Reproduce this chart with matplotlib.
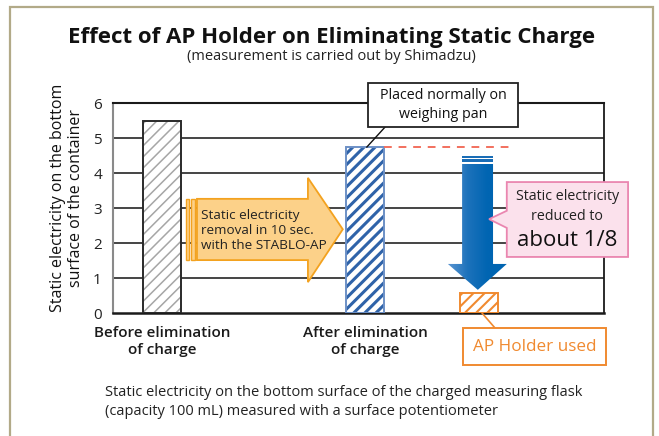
import numpy as np
import matplotlib
matplotlib.use("Agg")
import matplotlib.pyplot as plt
from matplotlib.patches import Rectangle, Polygon
from matplotlib.colors import LinearSegmentedColormap

plt.rcParams['font.family'] = ['Open Sans', 'DejaVu Sans']

# chart data
categories = ["Before elimination\nof charge", "After elimination\nof charge", "AP Holder used"]
values = [5.5, 4.75, 0.57]
positions = [1.0, 5.13, 7.46]
yticks = [0, 1, 2, 3, 4, 5, 6]

title = "Effect of AP Holder on Eliminating Static Charge"
subtitle = "(measurement is carried out by Shimadzu)"
ylabel = "Static electricity on the bottom\nsurface of the container"
caption = ("Static electricity on the bottom surface of the charged measuring flask\n"
           "(capacity 100 mL) measured with a surface potentiometer")

hatch_colors = ['#a6a6a6', '#2f63a9', '#f08a30']
border_colors = ['#2a2a2a', '#6d90c6', '#f08a30']
hatch_widths = [1.1, 2.2, 1.5]
bar_w = 0.78

fig = plt.figure(figsize=(6.59, 4.36), dpi=100)
W, H = 659.0, 436.0
ax = fig.add_axes([113 / W, 1 - 313.3 / H, 491 / W, 210 / H])
ax.set_xlim(0, 10)
ax.set_ylim(0, 6)

# outer frame
fig.patches.append(Rectangle((10 / W, -0.05), 643 / W, 1.05 - 7 / H, transform=fig.transFigure,
                             fill=False, edgecolor='#b2aa88', linewidth=1.6))

# grid lines
for y in yticks[1:-1]:
    ax.axhline(y, color='#444444', linewidth=1.4, zorder=1)

for sp in ['top', 'bottom', 'right']:
    ax.spines[sp].set_color('#1a1a1a')
ax.spines['top'].set_linewidth(1.5)
ax.spines['bottom'].set_linewidth(1.8)
ax.spines['right'].set_linewidth(1.3)
ax.spines['left'].set_color('#8a8a8a')
ax.spines['left'].set_linewidth(1.5)

# hatched bars + borders
hb = ax.bar(positions, values, bar_w, color='white', edgecolor=hatch_colors, hatch='///',
            linewidth=0, zorder=2)
for p, lw in zip(hb.patches, hatch_widths):
    if hasattr(p, 'set_hatch_linewidth'):
        p.set_hatch_linewidth(lw)
ax.bar(positions, values, bar_w, fill=False, edgecolor=border_colors, linewidth=1.4, zorder=3)

ax.set_yticks(yticks)
ax.set_yticklabels([str(t) for t in yticks], fontsize=11, color='#222')
ax.set_xticks(positions[:2])
ax.set_xticklabels(categories[:2], fontsize=11, fontweight='semibold', linespacing=1.25, color='#1a1a1a')
ax.tick_params(axis='both', length=0, pad=8)
ax.tick_params(axis='x', pad=9)

# red dashed reference at the "after" level
ax.plot([positions[1] + bar_w / 2, 8.13], [values[1], values[1]], color='#f2705e',
        linestyle=(0, (4, 3.5)), linewidth=1.4, zorder=4)

# "Placed normally on weighing pan" box
ax.plot([5.54, 5.17], [5.32, values[1]], color='#111', linewidth=1.0, zorder=5, clip_on=False)
ax.add_patch(Rectangle((5.19, 5.32), 3.06, 1.26, facecolor='white', edgecolor='#222',
                       linewidth=1.3, zorder=6, clip_on=False))
ax.text(6.72, 5.95, "Placed normally on\nweighing pan", ha='center', va='center', fontsize=10.3,
        linespacing=1.35, color='#111', zorder=7, clip_on=False)

# orange arrow: removal with STABLO-AP
org_fill, org_edge = '#fcd189', '#f3a21f'
arrow_pts = [(1.71, 3.27), (3.97, 3.27), (3.97, 3.87), (4.68, 2.40), (3.97, 0.89),
             (3.97, 1.52), (1.71, 1.52)]
ax.add_patch(Polygon(arrow_pts, closed=True, facecolor=org_fill, edgecolor=org_edge,
                     linewidth=1.3, zorder=5))
for x0, x1 in [(1.49, 1.55), (1.59, 1.67)]:
    ax.add_patch(Rectangle((x0, 1.52), x1 - x0, 1.75, facecolor=org_fill, edgecolor=org_edge,
                           linewidth=1.0, zorder=5))
ax.text(1.79, 2.37, "Static electricity\nremoval in 10 sec.\nwith the STABLO-AP", ha='left',
        va='center', fontsize=9.7, linespacing=1.2, color='#222', zorder=6)

# blue gradient arrow pointing down to the AP Holder bar
blue_pts = [(7.11, 4.27), (7.74, 4.27), (7.74, 1.41), (8.02, 1.41), (7.43, 0.67),
            (6.82, 1.41), (7.11, 1.41)]
blue_patch = Polygon(blue_pts, closed=True, facecolor='none', edgecolor='none', zorder=5)
ax.add_patch(blue_patch)
cmap = LinearSegmentedColormap.from_list('bl', ['#5a95d2', '#1d72bb', '#0065b2', '#0065b2'])
grad = np.linspace(0, 1, 256).reshape(1, -1)
im = ax.imshow(grad, cmap=cmap, extent=(6.82, 8.02, 0.67, 4.27), aspect='auto', zorder=5)
im.set_clip_path(blue_patch)
for y0, y1 in [(4.44, 4.48), (4.32, 4.41)]:
    ax.add_patch(Rectangle((7.11, y0), 0.63, y1 - y0, facecolor='#1a6db6', edgecolor='none',
                           zorder=5))
ax.set_xlim(0, 10)
ax.set_ylim(0, 6)

# pink callout
pink_pts = [(8.02, 3.75), (10.49, 3.75), (10.49, 1.61), (8.02, 1.61), (8.02, 2.44),
            (7.66, 2.69), (8.02, 2.93)]
ax.add_patch(Polygon(pink_pts, closed=True, facecolor='#fbe1ec', edgecolor='#ea86b0',
                     linewidth=1.3, zorder=6, clip_on=False))
ax.text(9.25, 3.35, "Static electricity", ha='center', va='center', fontsize=10.3,
        color='#222', zorder=7, clip_on=False)
ax.text(9.25, 2.76, "reduced to", ha='center', va='center', fontsize=10.3,
        color='#222', zorder=7, clip_on=False)
ax.text(9.25, 2.07, "about 1/8", ha='center', va='center', fontsize=16,
        color='#111', zorder=7, clip_on=False)

# "AP Holder used" label box
ax.plot([7.52, 7.78], [0, -0.42], color=hatch_colors[2], linewidth=1.2, clip_on=False, zorder=5)
ax.add_patch(Rectangle((7.13, -1.48), 2.91, 1.06, facecolor='white', edgecolor=hatch_colors[2],
                       linewidth=1.4, zorder=6, clip_on=False))
ax.text(8.585, -0.95, categories[2], ha='center', va='center', fontsize=12.3,
        color=hatch_colors[2], zorder=7, clip_on=False)

# titles and annotations in figure space
fig.text(332 / W, 1 - 37 / H, title, ha='center', va='center', fontsize=16,
         fontweight='bold', color='#111')
fig.text(331 / W, 1 - 56 / H, subtitle, ha='center', va='center', fontsize=10.5, color='#222')
fig.text(67 / W, 1 - 198 / H, ylabel, ha='center', va='center', rotation=90, fontsize=11.5,
         linespacing=1.25, multialignment='center', color='#111')
fig.text(105 / W, 1 - 402 / H, caption, ha='left', va='center', fontsize=10.5,
         linespacing=1.45, color='#222')

fig.savefig('out.png', dpi=100)
